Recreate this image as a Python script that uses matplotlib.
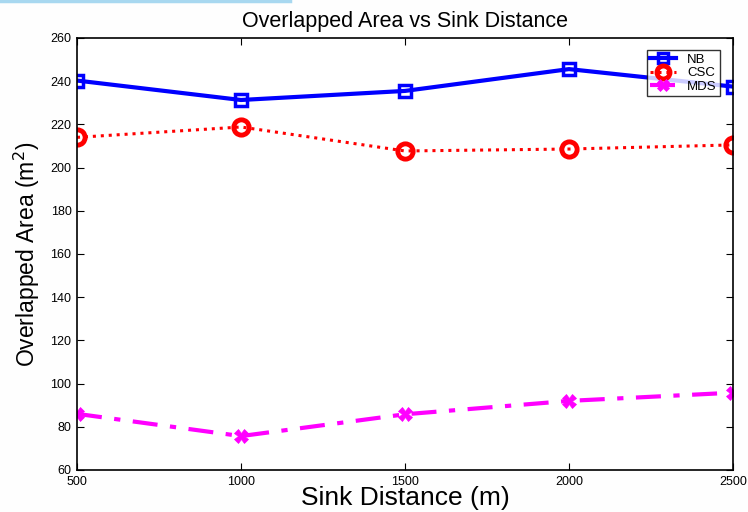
import matplotlib
matplotlib.use("Agg")
import matplotlib.pyplot as plt

distances = [500, 1000, 1500, 2000, 2500]
nb = [240.3, 231.3, 235.5, 245.6, 237.5]
csc = [214.0, 218.8, 207.7, 208.6, 210.5]
mds = [86.0, 75.7, 85.8, 92.0, 95.8]
yticks = [60, 80, 100, 120, 140, 160, 180, 200, 220, 240, 260]

plt.rcParams['font.family'] = ['Liberation Sans', 'DejaVu Sans']
fig = plt.figure(figsize=(7.48, 5.12), dpi=100)
fig.patch.set_facecolor('#fefefe')
ax = fig.add_axes([77/748, 1 - 470/512, (733-77)/748, (470-38)/512])

ax.plot(distances, nb, color='#0000ff', linestyle='-', linewidth=3,
        marker='s', markersize=9, markerfacecolor='none', markeredgewidth=2.5, label='NB')
ax.plot(distances, csc, color='#ff0000', linestyle=(0, (1, 1.6)), linewidth=2.2,
        marker='o', markersize=11, markerfacecolor='none', markeredgewidth=3.5, label='CSC')
ax.plot(distances, mds, color='#ff00ff', linestyle=(0, (6, 3, 1.5, 3)), linewidth=3,
        marker='X', markersize=10, markerfacecolor='#ff00ff', markeredgewidth=0.5, label='MDS')

ax.set_xlim(500, 2500)
ax.set_ylim(60, 260)
ax.set_xticks(distances)
ax.set_yticks(yticks)
ax.tick_params(direction='in', length=5, labelsize=9, top=True, right=True)
ax.tick_params(axis='x', pad=4)
ax.tick_params(axis='y', pad=4)
for s in ax.spines.values():
    s.set_linewidth(1.2)
ax.set_facecolor('white')

ax.set_title('Overlapped Area vs Sink Distance', fontsize=15.5, pad=8)
ax.set_xlabel('Sink Distance (m)', fontsize=19, labelpad=-1)
ax.set_ylabel('Overlapped Area (m$^2$)', fontsize=16.5, labelpad=6)

leg = ax.legend(loc='upper right', bbox_to_anchor=(0.99, 0.987), fontsize=9.5,
                frameon=True, fancybox=False, edgecolor='black', handlelength=2.0,
                borderpad=0.25, labelspacing=0.1, handletextpad=0.8, markerscale=0.85)
leg.get_frame().set_linewidth(1.0)

fig.add_artist(plt.Line2D([0, 290/748], [1 - 1/512, 1 - 1/512], color='#a8d8f0', linewidth=2.5,
                          transform=fig.transFigure))

fig.savefig('out.png', dpi=100, facecolor=fig.get_facecolor())
